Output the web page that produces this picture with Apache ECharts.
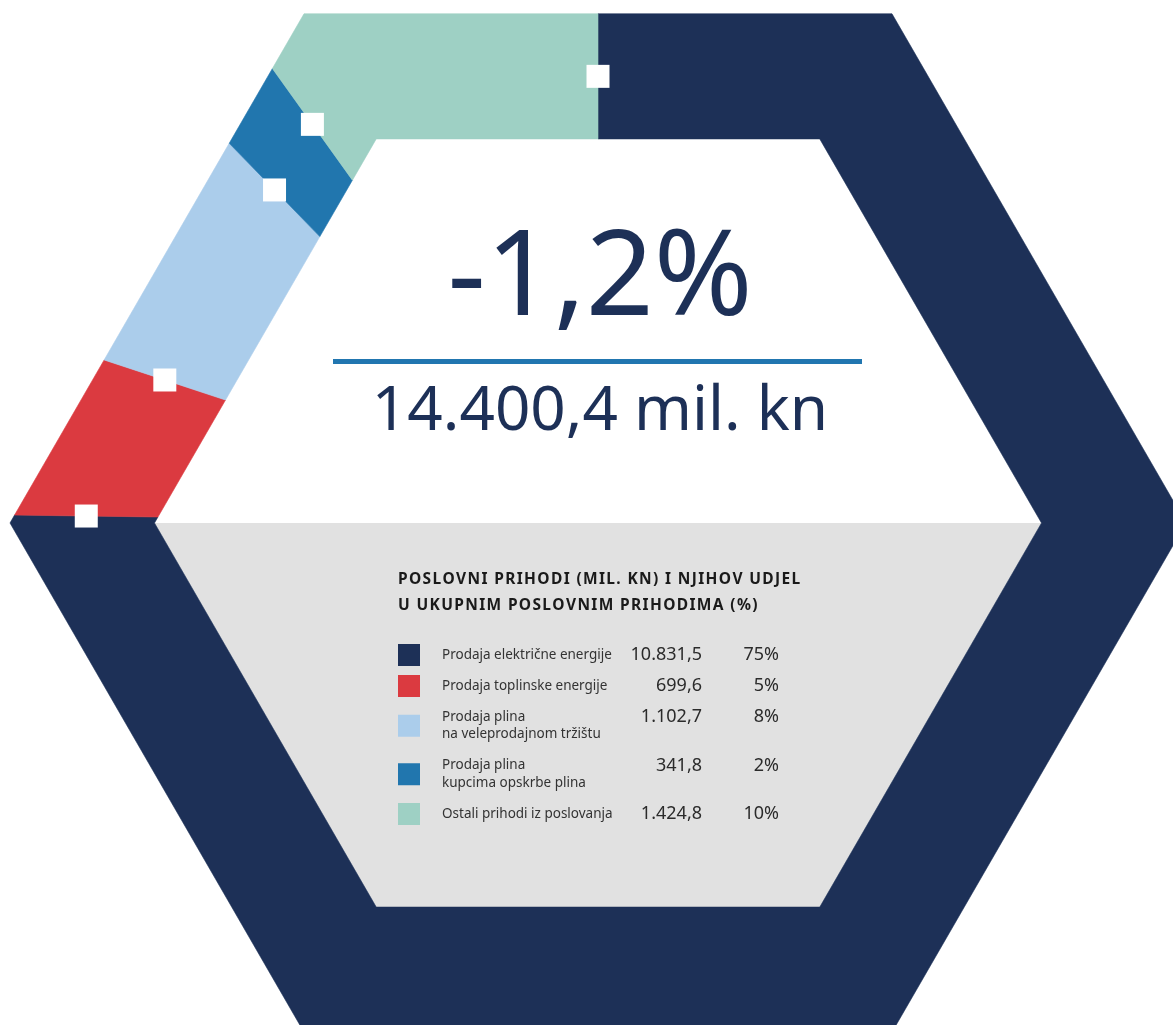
<!DOCTYPE html>
<html>
<head>
<meta charset="utf-8">
<script src="https://cdn.jsdelivr.net/npm/echarts@6/dist/echarts.min.js"></script>
<style>
  html, body { margin: 0; padding: 0; background: #fff; }
  #main { width: 1173px; height: 1025px; }
</style>
</head>
<body>
<div id="main"></div>
<script>
// data
const categories = [
  'Prodaja električne energije',
  'Prodaja toplinske energije',
  'Prodaja plina\nna veleprodajnom tržištu',
  'Prodaja plina\nkupcima opskrbe plina',
  'Ostali prihodi iz poslovanja'
];
const revenues = [10831.5, 699.6, 1102.7, 341.8, 1424.8];
const shares = [75, 5, 8, 2, 10];
const colors = ['#1d3057', '#db3a40', '#abcdeb', '#2176ae', '#9ed0c4'];
const changeText = '-1,2%';
const totalText = '14.400,4 mil. kn';
const titleLines = ['POSLOVNI PRIHODI (MIL. KN) I NJIHOV UDJEL', 'U UKUPNIM POSLOVNIM PRIHODIMA (%)'];

// hexagon geometry
const CX = 598, CY = 523;
const R_OUT = 588, R_IN = 443.5;
const FONT = '"Noto Sans", sans-serif';
const NAVY = '#1d3057';

function hexRadius(R, deg) {
  const t = ((deg % 60) + 60) % 60;
  return R * Math.cos(Math.PI / 6) / Math.cos((t - 30) * Math.PI / 180);
}
function hexPoint(R, deg) {
  const rr = hexRadius(R, deg);
  const a = deg * Math.PI / 180;
  return [CX + rr * Math.cos(a), CY - rr * Math.sin(a)];
}

// slices run counter-clockwise from 12 o'clock, last item first
const total = revenues.reduce((s, v) => s + v, 0);
const arcs = [];
let angle = 90;
for (let i = revenues.length - 1; i >= 0; i--) {
  const span = revenues[i] / total * 360;
  arcs[i] = [revenues[i], angle, angle + span];
  angle += span;
}

function ringSector(a0, a1) {
  const outer = [hexPoint(R_OUT, a0)];
  const inner = [hexPoint(R_IN, a0)];
  for (let k = Math.floor(a0 / 60) * 60 + 60; k < a1; k += 60) {
    outer.push(hexPoint(R_OUT, k));
    inner.push(hexPoint(R_IN, k));
  }
  outer.push(hexPoint(R_OUT, a1));
  inner.push(hexPoint(R_IN, a1));
  return outer.concat(inner.reverse());
}

function fmt(v) {
  const parts = v.toFixed(1).split('.');
  return parts[0].replace(/\B(?=(\d{3})+(?!\d))/g, '.') + ',' + parts[1];
}

// letter-spaced text, one element per character
const measureCtx = document.createElement('canvas').getContext('2d');
function spacedText(str, x, y, font, spacing, fill) {
  measureCtx.font = font;
  const els = [];
  let cx = x;
  for (const ch of str) {
    if (ch !== ' ') {
      els.push({ type: 'text', x: cx, y: y, style: { text: ch, font: font, fill: fill, verticalAlign: 'middle' } });
    }
    cx += measureCtx.measureText(ch).width + spacing;
  }
  return els;
}

// legend block
let legendEls = [];
titleLines.forEach((t, i) => {
  legendEls = legendEls.concat(spacedText(t, 398, 580 + i * 26, 'bold 15.5px ' + FONT, 1.35, '#1a1a1a'));
});
let rowY = 655;
categories.forEach((name, i) => {
  const lines = name.split('\n').length;
  const midY = rowY + (lines - 1) * 8.75;
  legendEls.push({
    type: 'rect', shape: { x: 398, y: midY - 11, width: 22, height: 22 },
    style: { fill: colors[i] }
  });
  legendEls.push({
    type: 'text', x: 442, y: rowY - 8.75,
    style: { text: name, fill: '#333', font: '13.5px ' + FONT, lineHeight: 17.5, verticalAlign: 'top' }
  });
  legendEls.push({
    type: 'text', x: 702, y: rowY,
    style: { text: fmt(revenues[i]), fill: '#2b2b2b', font: '18px ' + FONT, align: 'right', verticalAlign: 'middle' }
  });
  legendEls.push({
    type: 'text', x: 779, y: rowY,
    style: { text: shares[i] + '%', fill: '#2b2b2b', font: '18px ' + FONT, align: 'right', verticalAlign: 'middle' }
  });
  rowY += 31 + (lines - 1) * 17.5;
});

const grayHalf = [180, 240, 300, 360].map(d => hexPoint(R_IN, d));

const option = {
  backgroundColor: '#fff',
  animation: false,
  graphic: [
    { type: 'polygon', z: 0, shape: { points: grayHalf }, style: { fill: '#e1e1e1' } },
    {
      type: 'text', x: 600, y: 281, z: 5,
      style: { text: changeText, fill: NAVY, font: '119px ' + FONT, align: 'center', verticalAlign: 'middle' }
    },
    {
      type: 'rect', z: 5, shape: { x: 333, y: 359, width: 529, height: 5 },
      style: { fill: '#2176b0' }
    },
    {
      type: 'text', x: 600, y: 412, z: 5,
      style: { text: totalText, fill: NAVY, font: '62px ' + FONT, align: 'center', verticalAlign: 'middle' }
    }
  ].concat(legendEls.map(e => Object.assign({ z: 5 }, e))),
  series: [
    {
      type: 'custom',
      coordinateSystem: 'none',
      silent: true,
      data: arcs,
      renderItem(params, api) {
        const i = params.dataIndex;
        return {
          type: 'polygon',
          shape: { points: ringSector(api.value(1), api.value(2)) },
          style: { fill: colors[i], stroke: colors[i], lineWidth: 0.6 }
        };
      }
    },
    {
      // white markers on the slice boundaries
      type: 'custom',
      coordinateSystem: 'none',
      silent: true,
      z: 4,
      data: arcs,
      renderItem(params, api) {
        const a0 = api.value(1);
        const mid = (hexRadius(R_OUT, a0) + hexRadius(R_IN, a0)) / 2;
        const a = a0 * Math.PI / 180;
        const x = CX + mid * Math.cos(a), y = CY - mid * Math.sin(a);
        return {
          type: 'rect',
          shape: { x: x - 11.5, y: y - 11.5, width: 23, height: 23 },
          style: { fill: '#fff' }
        };
      }
    }
  ]
};

const chart = echarts.init(document.getElementById('main'), null, { renderer: 'canvas' });
chart.setOption(option);
</script>
</body>
</html>
